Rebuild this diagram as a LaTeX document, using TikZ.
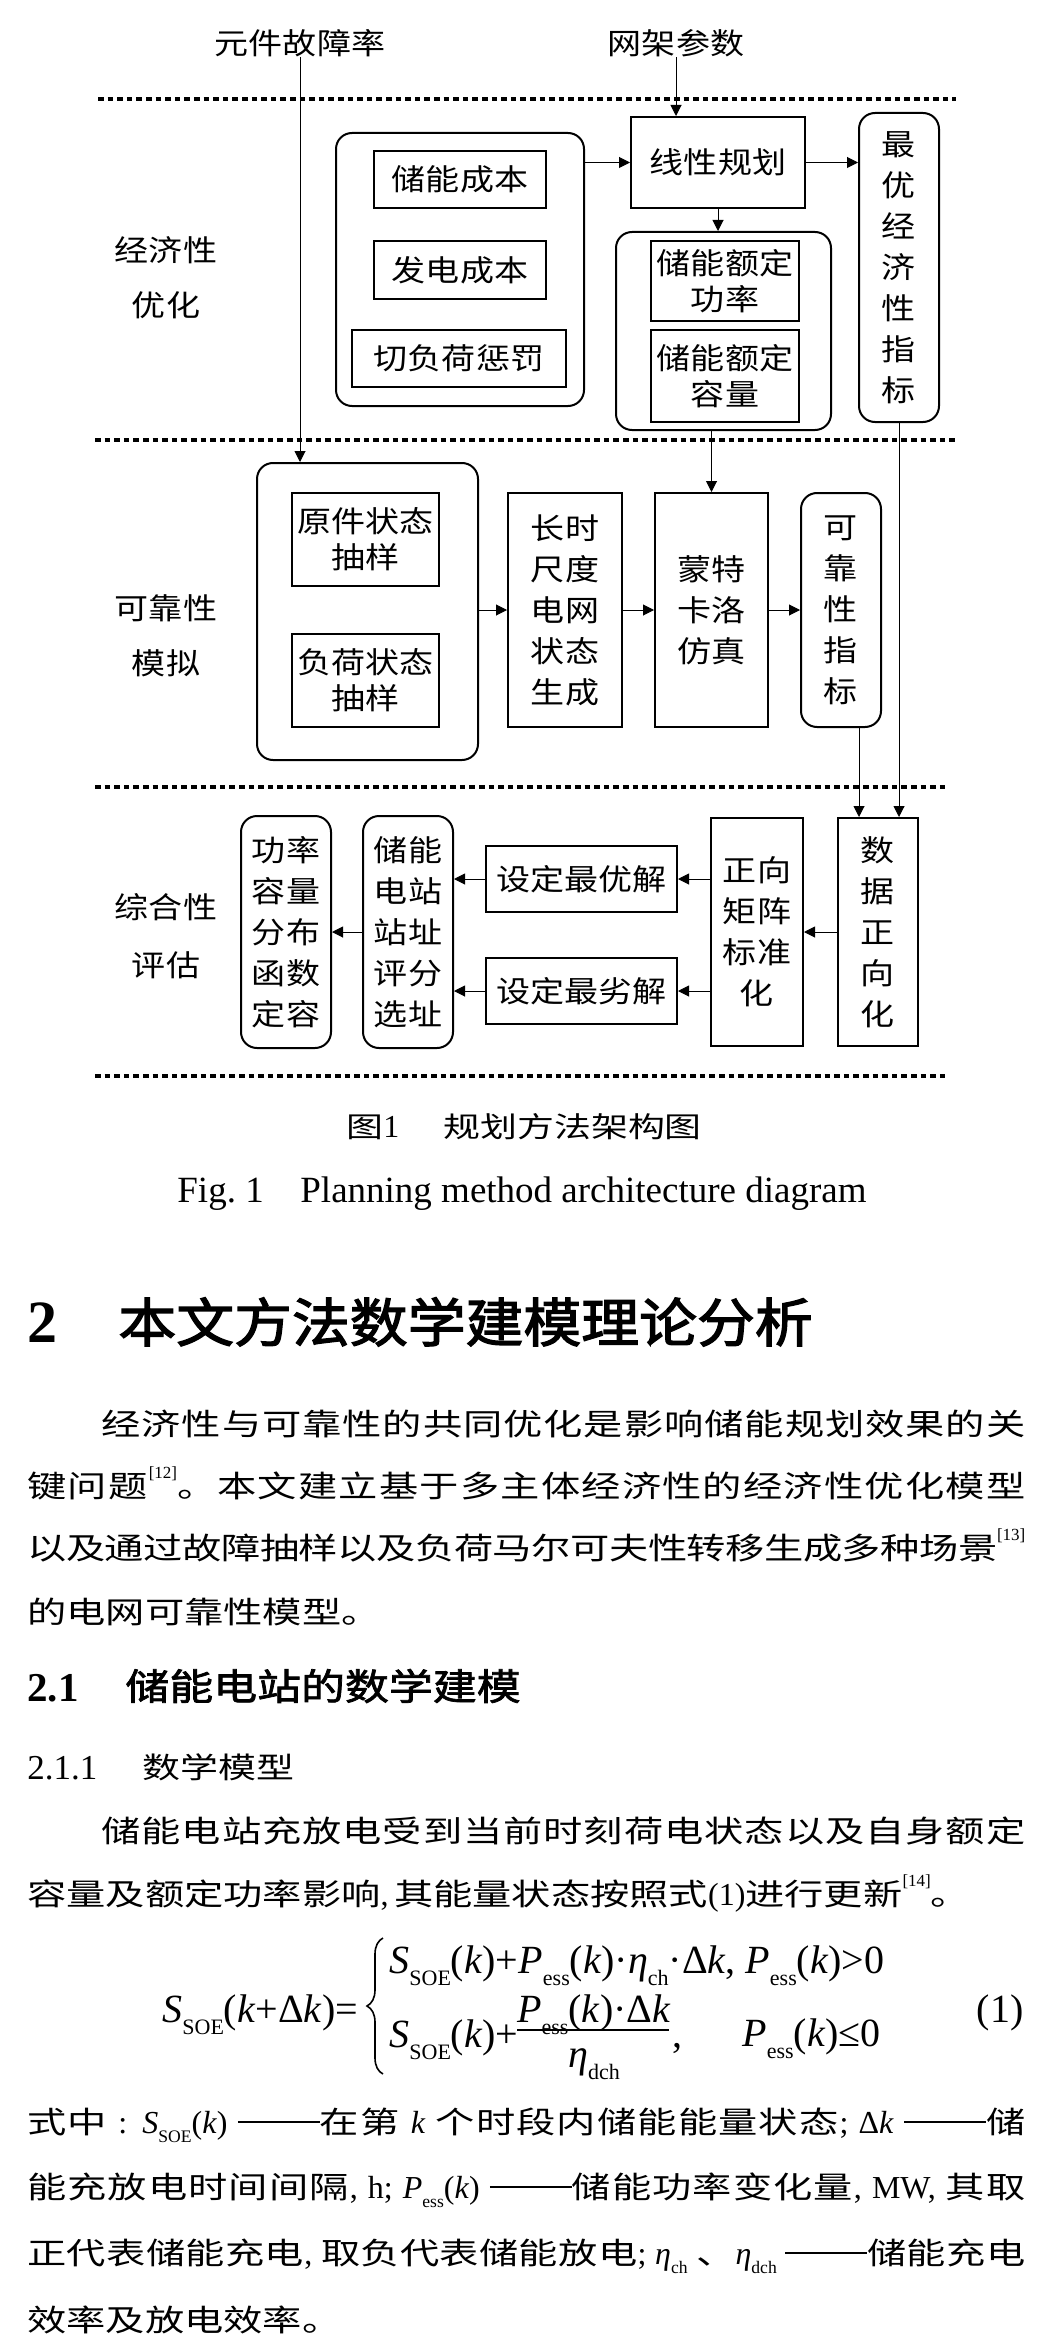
\documentclass[tikz,border=0pt]{standalone}
\usepackage{graphicx}
\usepackage{fontspec}
\setmainfont{Liberation Serif}
\newfontfamily\cjkb[FakeStretch=1.3]{Noto Sans CJK SC}
\newfontfamily\cjkd[FakeStretch=1.15]{Noto Sans CJK SC}
\newfontfamily\cjkhA[FakeStretch=1.1,FakeBold=2.5]{Noto Sans CJK SC}
\newfontfamily\cjkhB[FakeStretch=1.2,FakeBold=2]{Noto Sans CJK SC}
\usetikzlibrary{arrows.meta,decorations.pathreplacing}
\newcommand\lt[1]{{\rmfamily\fontsize{16}{16}\selectfont #1}}
\newcommand\sbx[1]{\raisebox{-0.3em}{\scalebox{0.55}{#1}}}
\newcommand\refsup[1]{\raisebox{0.62em}{\rmfamily\fontsize{8.5}{8.5}\selectfont[#1]}}
\newcommand\ddash{\rule[5pt]{41pt}{0.8pt}}
\newcommand\dfont{\cjkd\fontsize{14.8}{20.5}\selectfont}
\newcommand\dfontb{\cjkd\fontsize{14.8}{18}\selectfont}
% spread a run of CJK characters: stretchable glue after each character
\def\sps#1{\spsA#1\relax}
\def\spsA#1{\ifx#1\relax\else#1\hskip0pt plus 1pt minus 0.6pt\expandafter\spsA\fi}
\tikzset{
  sq/.style={draw, line width=1pt, inner sep=0pt, font=\dfont, align=center},
  rsq/.style={sq, rounded corners=8pt},
  lbl/.style={inner sep=0pt, font=\dfont},
  conn/.style={line width=0.5pt, -{Triangle[length=5.5pt,width=5.5pt]}},
  sep/.style={line width=2.2pt, dash pattern=on 2.8pt off 2pt},
  txt/.style={inner sep=0pt, anchor=base west},
  body/.style={txt, font=\cjkb\fontsize{15.1}{15.1}\selectfont},
  fml/.style={txt, font=\rmfamily\fontsize{20}{20}\selectfont},
  bracestyle/.style={line width=0.8pt, decorate, decoration={brace, amplitude=8pt}},
}
\begin{document}
\begin{tikzpicture}[x=0.5pt,y=-0.5pt]
\useasboundingbox (0,0) rectangle (1053,2343);

% ---------- separators ----------
\draw[sep] (98,99) -- (956,99);
\draw[sep] (95,440) -- (956,440);
\draw[sep] (95,787) -- (946,787);
\draw[sep] (95,1076) -- (946,1076);

% ---------- inputs and side labels ----------
\node[lbl] (fail) at (300,43) {元件故障率};
\node[lbl] (grid) at (676,43) {网架参数};
\node[lbl] (s1a) at (166,250) {经济性};
\node[lbl] (s1b) at (166,305) {优化};
\node[lbl] (s2a) at (166,608) {可靠性};
\node[lbl] (s2b) at (166,663) {模拟};
\node[lbl] (s3a) at (166,907) {综合性};
\node[lbl] (s3b) at (166,965) {评估};

% ---------- economic optimisation ----------
\node[rsq, minimum width=124pt, minimum height=136.5pt] (cost) at (460,269.5) {};
\node[sq, minimum width=86pt, minimum height=28.5pt] (esc) at (460,179.5) {储能成本};
\node[sq, minimum width=86pt, minimum height=29pt] (gen) at (460,270) {发电成本};
\node[sq, minimum width=107pt, minimum height=28.5pt] (shed) at (459,358.5) {切负荷惩罚};
\node[sq, minimum width=87pt, minimum height=45.5pt] (lp) at (718,162.5) {线性规划};
\node[rsq, minimum width=40pt, minimum height=154.5pt] (best) at (899,267.5) {最\\优\\经\\济\\性\\指\\标};
\node[rsq, minimum width=107.5pt, minimum height=99pt] (rated) at (723.5,331) {};
\node[sq, minimum width=74pt, minimum height=40pt, font=\dfontb] (rp) at (725,281) {储能额定\\功率};
\node[sq, minimum width=74pt, minimum height=46pt, font=\dfontb] (rc) at (725,376) {储能额定\\容量};

% ---------- reliability simulation ----------
\node[rsq, minimum width=110.5pt, minimum height=148.5pt] (relbox) at (367.5,611.5) {};
\node[sq, minimum width=73.5pt, minimum height=46.5pt, font=\dfontb] (cs) at (365.5,539.5) {原件状态\\抽样};
\node[sq, minimum width=73.5pt, minimum height=46.5pt, font=\dfontb] (ls) at (365.5,680.5) {负荷状态\\抽样};
\node[sq, minimum width=57pt, minimum height=117pt] (long) at (565,610) {长时\\尺度\\电网\\状态\\生成};
\node[sq, minimum width=56.5pt, minimum height=117pt] (mc) at (711.5,610) {蒙特\\卡洛\\仿真};
\node[rsq, minimum width=40pt, minimum height=117pt] (ridx) at (841,610) {可\\靠\\性\\指\\标};

% ---------- comprehensive evaluation ----------
\node[sq, minimum width=40pt, minimum height=114pt] (data) at (878,932) {数\\据\\正\\向\\化};
\node[sq, minimum width=46pt, minimum height=114pt] (norm) at (757,932) {正向\\矩阵\\标准\\化};
\node[sq, minimum width=95.5pt, minimum height=33pt] (opt) at (581.5,879) {设定最优解};
\node[sq, minimum width=95.5pt, minimum height=33pt] (worst) at (581.5,991) {设定最劣解};
\node[rsq, minimum width=45pt, minimum height=116pt] (site) at (408,932) {储能\\电站\\站址\\评分\\选址};
\node[rsq, minimum width=45pt, minimum height=116pt] (func) at (286,932) {功率\\容量\\分布\\函数\\定容};

% ---------- connectors ----------
\draw[conn] (fail.south) -- (fail.south |- relbox.north);
\draw[conn] (grid.south) -- (grid.south |- lp.north);
\draw[conn] (lp.west -| cost.east) -- (lp.west);
\draw[conn] (lp.east) -- (lp.east -| best.west);
\draw[conn] (lp.south) -- (lp.south |- rated.north);
\draw[conn] (mc.north |- rated.south) -- (mc.north);
\draw[conn] (best.south) -- (best.south |- data.north);
\draw[conn] ([xshift=9pt]ridx.south) -- ([xshift=9pt]ridx.south |- data.north);
\draw[conn] (long.west -| relbox.east) -- (long.west);
\draw[conn] (long.east) -- (mc.west);
\draw[conn] (mc.east) -- (ridx.west);
\draw[conn] (data.west) -- (norm.east);
\draw[conn] (opt.east -| norm.west) -- (opt.east);
\draw[conn] (worst.east -| norm.west) -- (worst.east);
\draw[conn] (opt.west) -- (opt.west -| site.east);
\draw[conn] (worst.west) -- (worst.west -| site.east);
\draw[conn] (site.west) -- (func.east);

% ---------- captions ----------
\node[body] (cap1) at (346,1137) {\fontsize{14.2}{14.2}\selectfont 图\lt{1}};
\node[body] (cap2) at (443,1137) {\fontsize{14.2}{14.2}\selectfont 规划方法架构图};
\node[txt, font=\rmfamily\fontsize{18.5}{18.5}\selectfont] (fig1) at (177,1202) {Fig.\ 1};
\node[txt, font=\rmfamily\fontsize{18.5}{18.5}\selectfont] (fig2) at (300,1202) {Planning method architecture diagram};

% ---------- section 2 ----------
\node[txt, font=\rmfamily\bfseries\fontsize{30}{30}\selectfont] (h2n) at (27,1342) {2};
\node[txt, font=\cjkhA\fontsize{26.3}{26.3}\selectfont] (h2t) at (118,1342) {本文方法数学建模理论分析};

\node[body] (p1a) at (101,1435) {\hbox to 462pt{\sps{经济性与可靠性的共同优化是影响储能规划效果的关}\unskip}};
\node[body] (p1b) at (27,1497) {\hbox to 499pt{\sps{键问题}\refsup{12}\sps{。本文建立基于多主体经济性的经济性优化模型}\unskip}};
\node[body] (p1c) at (27,1559) {\hbox to 499pt{\sps{以及通过故障抽样以及负荷马尔可夫性转移生成多种场景}\refsup{13}}};
\node[body] (p1d) at (27,1623) {的电网可靠性模型。};

\node[txt, font=\rmfamily\bfseries\fontsize{20.5}{20.5}\selectfont] (h21n) at (27,1701) {2.1};
\node[txt, font=\cjkhB\fontsize{18.3}{18.3}\selectfont] (h21t) at (125,1700) {储能电站的数学建模};
\node[txt, font=\rmfamily\fontsize{17.5}{17.5}\selectfont] (h211n) at (27,1779) {2.1.1};
\node[txt, font=\cjkb\fontsize{14.6}{14.6}\selectfont] (h211t) at (142,1778) {数学模型};

\node[body] (p2a) at (101,1842) {\hbox to 462pt{\sps{储能电站充放电受到当前时刻荷电状态以及自身额定}\unskip}};
\node[body] (p2b) at (27,1905) {容量及额定功率影响\lt{,\,}其能量状态按照式\lt{(1)}进行更新\refsup{14}。};

% ---------- formula (1) ----------
\node[fml] (lhs) at (162,2022) {\textit{S}\sbx{SOE}(\textit{k}+Δ\textit{k})=};
\coordinate (braceB) at (383,2074);
\coordinate (braceT) at (383,1938);
\draw[bracestyle] (braceB) -- (braceT);
\node[fml] (case1) at (389,1973) {\textit{S}\sbx{SOE}(\textit{k})+\textit{P}\sbx{ess}(\textit{k})·\textit{η}\sbx{ch}·Δ\textit{k}, \textit{P}\sbx{ess}(\textit{k})>0};
\node[fml] (case2) at (389,2047) {\textit{S}\sbx{SOE}(\textit{k})+};
\node[fml, anchor=base] (num) at (594,2022) {\textit{P}\sbx{ess}(\textit{k})·Δ\textit{k}};
\node[fml, anchor=base] (den) at (594,2067) {\textit{η}\sbx{dch}};
\coordinate (barL) at (517,2030);
\coordinate (barR) at (669,2030);
\draw[line width=0.6pt] (barL) -- (barR);
\node[fml] (comma) at (672,2047) {,};
\node[fml] (cond2) at (742,2046) {\textit{P}\sbx{ess}(\textit{k})≤0};
\node[fml, anchor=base east] (eqno) at (1024,2022) {(1)};

% ---------- definitions ----------
\node[body] (d1) at (27,2133) {\hbox to 499pt{\sps{式中}\lt{ : \textit{S}\sbx{SOE}(\textit{k})\ }\ddash\sps{在第}\lt{\ \textit{k}\ }\sps{个时段内储能能量状态}\lt{;\ Δ\textit{k}\ }\ddash 储}};
\node[body] (d2) at (27,2198) {\hbox to 499pt{\sps{能充放电时间间隔}\lt{,\ h;\ \textit{P}\sbx{ess}(\textit{k})\ }\ddash\sps{储能功率变化量}\lt{,\ MW,\ }\sps{其取}\unskip}};
\node[body] (d3) at (27,2264) {\hbox to 499pt{\sps{正代表储能充电}\lt{,\ }\sps{取负代表储能放电}\lt{;\ \textit{η}\sbx{ch}\ }、\lt{\textit{η}\sbx{dch}\ }\ddash\sps{储能充电}\unskip}};
\node[body] (d4) at (27,2331) {效率及放电效率。};
\end{tikzpicture}
\end{document}
